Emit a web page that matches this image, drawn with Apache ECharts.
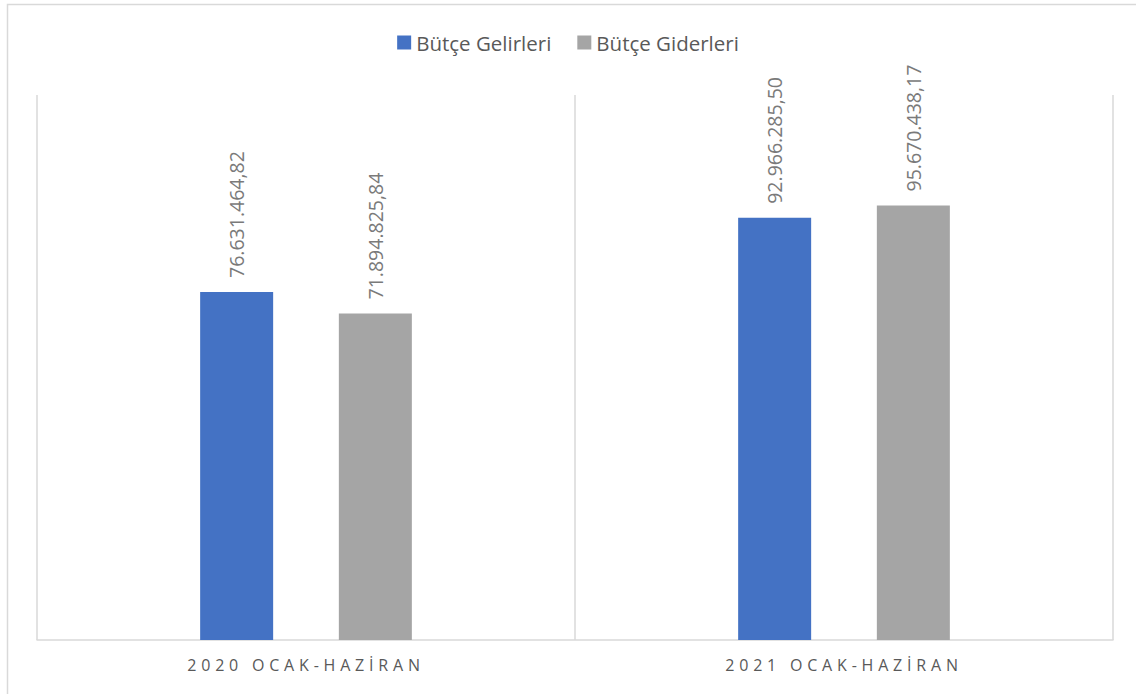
<!DOCTYPE html>
<html>
<head>
<meta charset="utf-8">
<script src="https://cdn.jsdelivr.net/npm/echarts@6/dist/echarts.min.js"></script>
<style>
  html, body { margin: 0; padding: 0; background: #fff; }
  #main { width: 1136px; height: 694px; }
</style>
</head>
<body>
<div id="main"></div>
<script>
// veriler
const periods = ['2020 OCAK-HAZİRAN', '2021 OCAK-HAZİRAN'];
const seriesNames = ['Bütçe Gelirleri', 'Bütçe Giderleri'];
const gelirler = [76631464.82, 92966285.50];
const giderler = [71894825.84, 95670438.17];
const colors = ['#4472C4', '#A5A5A5'];

/* Türkçe sayı biçimi: 76.631.464,82 */
function trFormat(v) {
    let parts = v.toFixed(2).split('.');
    let intPart = parts[0].replace(/\B(?=(\d{3})+(?!\d))/g, '.');
    return intPart + ',' + parts[1];
}

let myChart = echarts.init(document.getElementById('main'), null, { renderer: 'svg' });

let labelStyle = {
    show: true,
    position: 'top',
    distance: 14,
    rotate: 90,
    align: 'left',
    verticalAlign: 'middle',
    color: '#7a7a7a',
    fontSize: 19.5,
    fontFamily: 'Open Sans',
    formatter: p => trFormat(p.value)
};

let option = {
    animation: false,
    graphic: [{
        type: 'rect',
        shape: { x: 7.5, y: 4.5, width: 1200, height: 800 },
        style: { fill: 'none', stroke: '#d9d9d9', lineWidth: 1.5 },
        silent: true
    }],
    legend: {
        data: seriesNames,
        top: 27,
        left: 'center',
        itemWidth: 14,
        itemHeight: 14,
        itemGap: 26,
        icon: 'rect',
        textStyle: { color: '#595959', fontSize: 20.5, fontFamily: 'Open Sans' }
    },
    grid: { left: 37, right: 23, top: 95, bottom: 54 },
    xAxis: {
        type: 'category',
        data: periods,
        boundaryGap: true,
        axisLine: { lineStyle: { color: '#d9d9d9', width: 1.5 } },
        axisTick: { show: false },
        splitLine: { show: true, lineStyle: { color: '#d9d9d9', width: 1.5 } },
        axisLabel: { color: '#595959', fontSize: 16, fontFamily: 'Open Sans', margin: 17 }
    },
    yAxis: {
        type: 'value',
        min: 0,
        max: 120000000,
        show: false
    },
    series: [
        {
            name: seriesNames[0],
            type: 'bar',
            data: gelirler,
            barWidth: 73,
            barGap: '90%',
            itemStyle: { color: colors[0] },
            label: labelStyle
        },
        {
            name: seriesNames[1],
            type: 'bar',
            data: giderler,
            barWidth: 73,
            barGap: '90%',
            itemStyle: { color: colors[1] },
            label: labelStyle
        }
    ]
};

myChart.setOption(option);

// eksen etiketlerine harf aralığı
function spaceAxisLabels() {
    document.querySelectorAll('#main svg text').forEach(t => {
        if (t.textContent.indexOf('OCAK') >= 0) {
            t.style.letterSpacing = '4.8px';
        }
    });
}
myChart.on('finished', spaceAxisLabels);
setTimeout(spaceAxisLabels, 50);
</script>
</body>
</html>
